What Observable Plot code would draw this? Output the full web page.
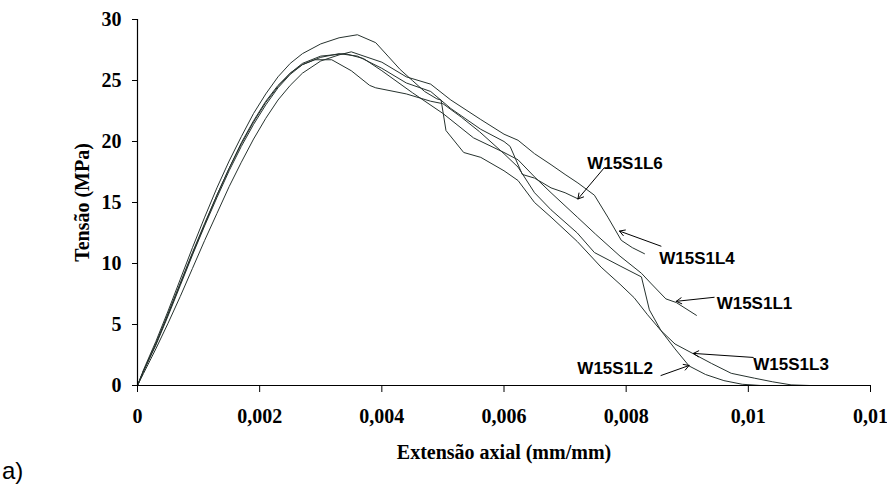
<!DOCTYPE html>
<html><head><meta charset="utf-8">
<script src="https://cdn.jsdelivr.net/npm/d3@7"></script>
<script src="https://cdn.jsdelivr.net/npm/@observablehq/plot@0.6"></script>
<style>
body{margin:0;background:#fff;}
#wrap{position:relative;width:887px;height:492px;}
#cap{position:absolute;left:2px;top:457px;font:24px "Liberation Sans",Arial,sans-serif;color:#000;}
#chart svg g[aria-label="x-axis tick label"] text,
#chart svg g[aria-label="y-axis tick label"] text,
#chart svg g[aria-label="x-axis label"] text,
#chart svg g[aria-label="y-axis label"] text{font-weight:bold;font-family:"Liberation Serif","Times New Roman",serif;font-size:20px;}
</style>
</head><body><div id="wrap"><div id="chart"></div><div id="cap">a)</div></div>
<script>
const xTicks=[0,0.002,0.004,0.006,0.008,0.010,0.012];
const xTickLabels=["0","0,002","0,004","0,006","0,008","0,01","0,01"];
const yTicks=[0,5,10,15,20,25,30];

const L1=[[0,0],[0.0001,1.2],[0.0003,3.4],[0.0005,5.8],[0.0007,8.3],[0.0009,10.8],[0.0011,13.2],[0.0013,15.6],[0.0015,17.8],[0.0017,19.8],[0.0019,21.6],[0.0021,23.2],[0.0023,24.5],[0.0025,25.6],[0.0027,26.4],[0.003,27.0],[0.0034,27.2],[0.0037,26.8],[0.004,25.8],[0.0045,24.0],[0.005,22.3],[0.0055,20.3],[0.006,19.1],[0.00623,18.5],[0.0065,17.1],[0.00677,15.8],[0.0072,13.8],[0.0075,12.4],[0.0079,10.6],[0.00825,9.2],[0.0084,8.4],[0.00865,7.1],[0.00882,6.8],[0.00915,5.75]];
const L2=[[0,0],[0.0001,1.3],[0.0003,3.6],[0.0005,6.1],[0.0007,8.7],[0.0009,11.3],[0.0011,13.8],[0.0013,16.2],[0.0015,18.4],[0.0017,20.4],[0.0019,22.3],[0.0021,23.9],[0.0023,25.3],[0.0025,26.4],[0.0027,27.2],[0.003,28.0],[0.0033,28.5],[0.0036,28.75],[0.0039,28.1],[0.0041,27.0],[0.0043,25.9],[0.0045,25.0],[0.0047,24.1],[0.0049,23.5],[0.00497,23.4],[0.00505,20.9],[0.00534,19.1],[0.00562,18.7],[0.006,17.6],[0.00623,16.8],[0.0065,15.0],[0.00677,13.8],[0.0072,11.8],[0.00759,9.7],[0.0079,8.3],[0.00813,7.2],[0.00835,5.8],[0.00857,4.5],[0.0088,3.0],[0.00903,1.6],[0.0093,0.9],[0.0096,0.4],[0.0099,0.1],[0.0102,0]];
const L3=[[0,0],[0.0001,1.2],[0.0003,3.4],[0.0005,5.9],[0.0007,8.4],[0.0009,10.9],[0.0011,13.3],[0.0013,15.6],[0.0015,17.8],[0.0017,19.9],[0.0019,21.7],[0.0021,23.3],[0.0023,24.6],[0.0025,25.6],[0.0027,26.3],[0.0029,26.7],[0.00318,26.7],[0.0035,25.8],[0.0038,24.6],[0.0039,24.4],[0.0044,23.9],[0.0048,23.3],[0.005,23.1],[0.0053,22.0],[0.0056,20.8],[0.006,19.0],[0.00623,17.9],[0.0065,15.8],[0.00677,14.4],[0.0072,12.5],[0.00748,10.9],[0.0079,9.8],[0.00825,8.9],[0.00838,6.2],[0.00857,4.5],[0.0088,3.4],[0.0091,2.6],[0.0094,1.8],[0.00972,1.0],[0.0101,0.6],[0.0104,0.3],[0.0107,0.05],[0.011,0]];
const L4=[[0,0],[0.0001,1.0],[0.0003,3.0],[0.0005,5.1],[0.0007,7.3],[0.0009,9.6],[0.0011,11.9],[0.0013,14.1],[0.0015,16.3],[0.0017,18.3],[0.0019,20.2],[0.0021,21.9],[0.0023,23.4],[0.0025,24.6],[0.0027,25.6],[0.003,26.6],[0.0033,27.1],[0.0035,27.35],[0.004,26.5],[0.0044,25.3],[0.0048,24.7],[0.00513,23.4],[0.00562,21.8],[0.006,20.6],[0.00623,20.1],[0.0065,19.0],[0.00677,18.1],[0.007,17.3],[0.00721,16.6],[0.00748,15.6],[0.0077,13.8],[0.00792,11.9],[0.0081,11.3],[0.0083,10.8]];
const L6=[[0,0],[0.0001,1.2],[0.0003,3.3],[0.0005,5.7],[0.0007,8.2],[0.0009,10.7],[0.0011,13.1],[0.0013,15.4],[0.0015,17.6],[0.0017,19.6],[0.0019,21.4],[0.0021,23.0],[0.0023,24.4],[0.0025,25.5],[0.0027,26.3],[0.003,26.9],[0.0033,27.2],[0.0036,27.0],[0.004,26.0],[0.0044,24.8],[0.0048,24.1],[0.00513,22.7],[0.00562,21.0],[0.006,20.0],[0.0061,19.6],[0.0063,17.3],[0.0065,17.0],[0.00677,16.2],[0.007,15.8],[0.00721,15.3]];

const seriesNames=["W15S1L1","W15S1L2","W15S1L3","W15S1L4","W15S1L6"];
const seriesData=[L1,L2,L3,L4,L6];
const labelX=[0.0101,0.00782,0.0107,0.00916,0.00798];
const labelY=[6.74,1.40,1.73,10.44,18.16];
const arrowFromX=[0.00944,0.00857,0.01008,0.00857,0.00764];
const arrowFromY=[7.23,0.82,2.30,11.42,17.84];
const arrowToX=[0.00882,0.00903,0.0091,0.00789,0.00721];
const arrowToY=[6.90,1.64,2.63,12.66,15.29];

const rows=[];
seriesNames.forEach((n,i)=>seriesData[i].forEach(([x,y])=>rows.push({s:n,x,y})));
const ann=seriesNames.map((n,i)=>({n,lx:labelX[i],ly:labelY[i],x1:arrowFromX[i],y1:arrowFromY[i],x2:arrowToX[i],y2:arrowToY[i]}));

const serif='"Liberation Serif","Times New Roman",serif';
const sans='"Liberation Sans",Arial,sans-serif';
const chart=Plot.plot({
  width:887,height:492,
  marginLeft:137,marginRight:17,marginTop:19,marginBottom:107,
  style:{fontFamily:serif,background:"#fff",color:"#000"},
  x:{domain:[0,0.012]},
  y:{domain:[0,30]},
  marks:[
    Plot.line(rows,{x:"x",y:"y",z:"s",stroke:"#26322e",strokeWidth:1}),
    Plot.ruleX([0],{stroke:"#000",strokeWidth:1.2}),
    Plot.ruleY([0],{stroke:"#000",strokeWidth:1.2}),
    Plot.axisX({ticks:xTicks,tickFormat:(d,i)=>xTickLabels[i],tickSize:7,tickPadding:16,fontSize:20,label:"Extensão axial (mm/mm)",labelAnchor:"center",labelArrow:"none",labelOffset:73}),
    Plot.axisY({ticks:yTicks,tickSize:5,tickPadding:11,fontSize:20,label:"Tensão (MPa)",labelAnchor:"center",labelArrow:"none",labelOffset:63}),
    Plot.arrow(ann,{x1:"x1",y1:"y1",x2:"x2",y2:"y2",stroke:"#000",strokeWidth:1,headLength:9,bend:0}),
    Plot.text(ann,{x:"lx",y:"ly",text:"n",fontFamily:sans,fontWeight:"bold",fontSize:17,fill:"#000"})
  ]
});
document.getElementById("chart").appendChild(chart);
</script>
</body></html>
